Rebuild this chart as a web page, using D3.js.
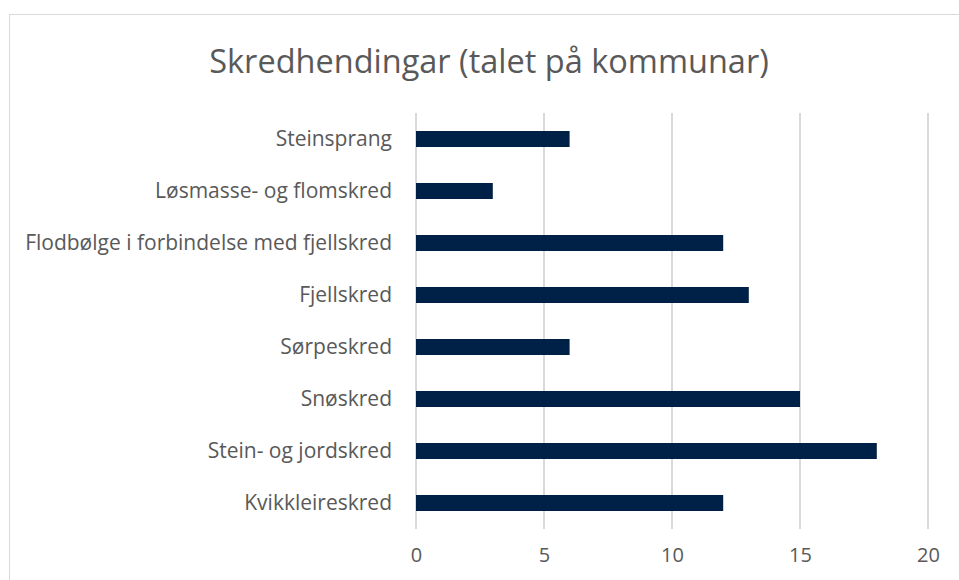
<!DOCTYPE html>
<html>
  <head>
    <meta charset="utf-8">
    <script src="https://d3js.org/d3.v7.min.js"></script>
    <style>
      body { margin: 0; background: #fff; }
      svg { font-family: "Open Sans", sans-serif; }
    </style>
  </head>
  <body>
    <script>
      const categories = ["Steinsprang","Løsmasse- og flomskred","Flodbølge i forbindelse med fjellskred","Fjellskred","Sørpeskred","Snøskred","Stein- og jordskred","Kvikkleireskred"]
      const values = [6,3,12,13,6,15,18,12]
      const xTicks = [0,5,10,15,20]
      const title = "Skredhendingar (talet på kommunar)"

      const w = 959
      const h = 580
      const svg = d3.select("body").append("svg")
        .attr("width",w)
        .attr("height",h)

      // chart frame
      svg.append("rect")
        .attr("x",9.5).attr("y",14.5)
        .attr("width",w).attr("height",h)
        .attr("fill","#fff").attr("stroke","#d9d9d9")

      svg.append("text")
        .attr("x",489).attr("y",73)
        .attr("text-anchor","middle")
        .attr("font-size",32.5)
        .attr("fill","#595959")
        .text(title)

      const xScale = d3.scaleLinear().domain([0,20]).range([416,928])
      const yScale = d3.scaleBand().domain(categories).range([113,529])

      svg.append("g").selectAll("line")
        .data(xTicks)
        .enter().append("line")
          .attr("x1",d => xScale(d)).attr("x2",d => xScale(d))
          .attr("y1",113).attr("y2",529)
          .attr("stroke","#d9d9d9").attr("stroke-width",2)

      svg.append("g").selectAll("rect")
        .data(values)
        .enter().append("rect")
          .attr("x",xScale(0))
          .attr("y",(d,i) => yScale(categories[i]) + yScale.bandwidth()/2 - 8)
          .attr("width",d => xScale(d) - xScale(0))
          .attr("height",16)
          .attr("fill","#002147")

      const xAxis = d3.axisBottom(xScale).tickValues(xTicks).tickSize(0).tickPadding(19)
      const gx = svg.append("g").attr("transform","translate(0,529)").call(xAxis)
      gx.select(".domain").remove()
      gx.selectAll("text").attr("font-size",20).attr("fill","#595959").attr("font-family","'Open Sans', sans-serif")

      const yAxis = d3.axisLeft(yScale).tickSize(0).tickPadding(24)
      const gy = svg.append("g").attr("transform","translate(416,0)").call(yAxis)
      gy.select(".domain").remove()
      gy.selectAll("text").attr("font-size",21).attr("fill","#595959").attr("font-family","'Open Sans', sans-serif")
    </script>
  </body>
</html>
